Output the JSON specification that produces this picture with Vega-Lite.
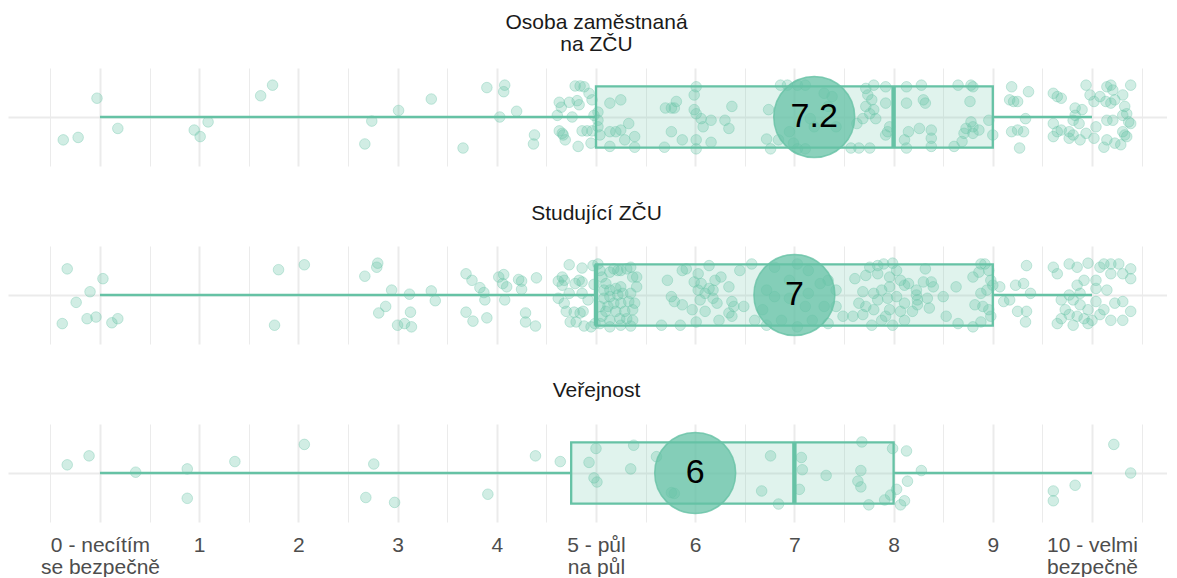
{
  "$schema": "https://vega.github.io/schema/vega-lite/v6.json",
  "background": "white",
  "padding": {"left": 8, "top": 12, "right": 0, "bottom": 0},
  "spacing": 80,
  "bounds": "flush",
  "config": {"view": {"stroke": null}, "font": "Liberation Sans"},
  "datasets": {
    "stats": [
      {"group": "zamestnanci", "lo": 0, "q1": 5, "median": 8, "q3": 9, "hi": 10, "mean": 7.2},
      {"group": "studenti", "lo": 0, "q1": 5, "median": 5, "q3": 9, "hi": 10, "mean": 7.0},
      {"group": "verejnost", "lo": 0, "q1": 4.75, "median": 7, "q3": 8, "hi": 10, "mean": 6.0}
    ],
    "zamestnanci": [
      {"score": -0.03, "jitter": 0.23}, {"score": -0.37, "jitter": -0.28}, {"score": -0.22, "jitter": -0.25}, {"score": 0.18, "jitter": -0.14},
      {"score": 0.95, "jitter": -0.16}, {"score": 1.01, "jitter": -0.24}, {"score": 1.09, "jitter": -0.06}, {"score": 1.62, "jitter": 0.26},
      {"score": 1.74, "jitter": 0.39}, {"score": 2.74, "jitter": -0.05}, {"score": 2.67, "jitter": -0.33}, {"score": 3.01, "jitter": 0.08},
      {"score": 3.34, "jitter": 0.22}, {"score": 3.66, "jitter": -0.38}, {"score": 3.90, "jitter": 0.36}, {"score": 4.08, "jitter": 0.39},
      {"score": 4.07, "jitter": 0.31}, {"score": 4.03, "jitter": 0.0}, {"score": 4.20, "jitter": 0.07}, {"score": 4.38, "jitter": -0.22},
      {"score": 4.37, "jitter": -0.33},
      {"score": 4.63, "jitter": 0.18}, {"score": 4.65, "jitter": 0.12}, {"score": 4.73, "jitter": 0.18}, {"score": 4.81, "jitter": 0.20},
      {"score": 4.83, "jitter": 0.15}, {"score": 4.61, "jitter": 0.02}, {"score": 4.76, "jitter": 0.0}, {"score": 4.79, "jitter": 0.38},
      {"score": 4.84, "jitter": 0.38}, {"score": 4.88, "jitter": 0.37}, {"score": 4.93, "jitter": 0.29}, {"score": 4.96, "jitter": 0.21},
      {"score": 4.98, "jitter": 0.02}, {"score": 4.63, "jitter": -0.17}, {"score": 4.66, "jitter": -0.20}, {"score": 4.67, "jitter": -0.22},
      {"score": 4.69, "jitter": -0.28}, {"score": 4.86, "jitter": -0.17}, {"score": 4.91, "jitter": -0.17}, {"score": 4.96, "jitter": -0.17},
      {"score": 4.82, "jitter": -0.36}, {"score": 4.95, "jitter": -0.32},
      {"score": 5.02, "jitter": 0.06}, {"score": 5.02, "jitter": -0.04}, {"score": 5.02, "jitter": -0.12}, {"score": 5.04, "jitter": -0.22},
      {"score": 5.14, "jitter": 0.17}, {"score": 5.25, "jitter": 0.21}, {"score": 5.14, "jitter": -0.18}, {"score": 5.20, "jitter": -0.18},
      {"score": 5.25, "jitter": -0.16}, {"score": 5.29, "jitter": -0.28}, {"score": 5.33, "jitter": -0.08}, {"score": 5.39, "jitter": -0.24},
      {"score": 5.14, "jitter": -0.36}, {"score": 5.39, "jitter": -0.37}, {"score": 5.70, "jitter": 0.11}, {"score": 5.76, "jitter": 0.11},
      {"score": 5.79, "jitter": 0.11}, {"score": 5.81, "jitter": 0.19}, {"score": 5.76, "jitter": -0.18}, {"score": 5.69, "jitter": -0.37},
      {"score": 5.87, "jitter": -0.28}, {"score": 6.01, "jitter": 0.37}, {"score": 5.99, "jitter": 0.27}, {"score": 5.99, "jitter": 0.09},
      {"score": 6.01, "jitter": 0.04}, {"score": 6.06, "jitter": -0.02}, {"score": 6.08, "jitter": -0.12}, {"score": 6.16, "jitter": -0.04},
      {"score": 6.01, "jitter": -0.28}, {"score": 6.01, "jitter": -0.39}, {"score": 6.16, "jitter": -0.31}, {"score": 6.30, "jitter": -0.04},
      {"score": 6.34, "jitter": -0.14}, {"score": 6.37, "jitter": 0.13}, {"score": 6.74, "jitter": 0.09}, {"score": 6.72, "jitter": -0.27},
      {"score": 6.76, "jitter": -0.39}, {"score": 6.86, "jitter": 0.39}, {"score": 6.93, "jitter": 0.39}, {"score": 7.03, "jitter": 0.39},
      {"score": 7.11, "jitter": 0.39}, {"score": 6.84, "jitter": -0.28}, {"score": 6.99, "jitter": -0.32}, {"score": 7.03, "jitter": -0.39},
      {"score": 7.11, "jitter": -0.39}, {"score": 7.30, "jitter": 0.29}, {"score": 7.38, "jitter": 0.25}, {"score": 7.34, "jitter": 0.13},
      {"score": 7.16, "jitter": -0.02}, {"score": 7.20, "jitter": -0.12}, {"score": 6.95, "jitter": -0.18}, {"score": 7.42, "jitter": -0.12},
      {"score": 7.57, "jitter": -0.38}, {"score": 7.63, "jitter": -0.08}, {"score": 7.65, "jitter": -0.38}, {"score": 7.72, "jitter": 0.35},
      {"score": 7.74, "jitter": 0.27}, {"score": 7.78, "jitter": 0.21}, {"score": 7.80, "jitter": 0.39}, {"score": 7.92, "jitter": 0.37},
      {"score": 7.72, "jitter": 0.13}, {"score": 7.76, "jitter": 0.04}, {"score": 7.80, "jitter": 0.09}, {"score": 7.82, "jitter": -0.02},
      {"score": 7.69, "jitter": -0.02}, {"score": 7.92, "jitter": 0.17}, {"score": 7.94, "jitter": -0.18}, {"score": 7.92, "jitter": -0.22},
      {"score": 7.76, "jitter": -0.38}, {"score": 7.96, "jitter": -0.12}, {"score": 8.13, "jitter": 0.37}, {"score": 8.13, "jitter": 0.17},
      {"score": 8.15, "jitter": -0.18}, {"score": 8.11, "jitter": -0.28}, {"score": 8.13, "jitter": -0.38}, {"score": 8.28, "jitter": 0.39},
      {"score": 8.30, "jitter": 0.21}, {"score": 8.32, "jitter": 0.17}, {"score": 8.26, "jitter": -0.14}, {"score": 8.38, "jitter": -0.16},
      {"score": 8.38, "jitter": -0.26}, {"score": 8.38, "jitter": -0.36}, {"score": 8.65, "jitter": 0.39}, {"score": 8.78, "jitter": 0.39},
      {"score": 8.80, "jitter": 0.37}, {"score": 8.77, "jitter": 0.19}, {"score": 8.78, "jitter": -0.06}, {"score": 8.80, "jitter": -0.12},
      {"score": 8.73, "jitter": -0.14}, {"score": 8.71, "jitter": -0.20}, {"score": 8.80, "jitter": -0.20}, {"score": 8.86, "jitter": -0.16},
      {"score": 8.96, "jitter": -0.04}, {"score": 8.69, "jitter": -0.30}, {"score": 8.61, "jitter": -0.36}, {"score": 9.00, "jitter": -0.22},
      {"score": 9.19, "jitter": 0.37}, {"score": 9.36, "jitter": 0.31}, {"score": 9.17, "jitter": 0.21}, {"score": 9.21, "jitter": 0.19},
      {"score": 9.25, "jitter": 0.19}, {"score": 9.33, "jitter": -0.02}, {"score": 9.19, "jitter": -0.18}, {"score": 9.25, "jitter": -0.16},
      {"score": 9.31, "jitter": -0.18}, {"score": 9.27, "jitter": -0.38}, {"score": 9.61, "jitter": 0.29}, {"score": 9.65, "jitter": 0.25},
      {"score": 9.69, "jitter": 0.23}, {"score": 9.61, "jitter": -0.08}, {"score": 9.65, "jitter": -0.18}, {"score": 9.61, "jitter": -0.24},
      {"score": 9.69, "jitter": -0.16}, {"score": 9.77, "jitter": -0.18}, {"score": 9.83, "jitter": 0.11}, {"score": 9.83, "jitter": 0.02},
      {"score": 9.81, "jitter": -0.04}, {"score": 9.87, "jitter": -0.08}, {"score": 9.90, "jitter": 0.09}, {"score": 9.94, "jitter": 0.39},
      {"score": 9.98, "jitter": 0.27}, {"score": 10.02, "jitter": 0.19}, {"score": 10.08, "jitter": 0.25}, {"score": 10.15, "jitter": 0.37},
      {"score": 10.19, "jitter": 0.39}, {"score": 10.21, "jitter": 0.33}, {"score": 10.23, "jitter": 0.21}, {"score": 10.31, "jitter": 0.27},
      {"score": 10.39, "jitter": 0.39}, {"score": 10.14, "jitter": 0.19}, {"score": 10.19, "jitter": 0.17}, {"score": 10.33, "jitter": 0.13},
      {"score": 10.35, "jitter": 0.04}, {"score": 10.31, "jitter": 0.02}, {"score": 10.15, "jitter": -0.04}, {"score": 10.21, "jitter": -0.04},
      {"score": 10.37, "jitter": -0.06}, {"score": 10.39, "jitter": -0.08}, {"score": 10.04, "jitter": -0.12}, {"score": 9.94, "jitter": -0.20},
      {"score": 9.88, "jitter": -0.28}, {"score": 10.02, "jitter": -0.26}, {"score": 10.15, "jitter": -0.28}, {"score": 10.23, "jitter": -0.32},
      {"score": 10.29, "jitter": -0.34}, {"score": 10.12, "jitter": -0.37}, {"score": 10.31, "jitter": -0.18}, {"score": 10.33, "jitter": -0.22},
      {"score": 10.35, "jitter": -0.24}, {"score": 9.81, "jitter": -0.22}, {"score": 9.77, "jitter": -0.26}
    ],
    "studenti": [
      {"score": -0.33, "jitter": 0.32}, {"score": 0.03, "jitter": 0.20}, {"score": -0.10, "jitter": 0.04}, {"score": -0.24, "jitter": -0.09},
      {"score": -0.38, "jitter": -0.35}, {"score": -0.13, "jitter": -0.29}, {"score": -0.04, "jitter": -0.27}, {"score": 0.12, "jitter": -0.34},
      {"score": 0.18, "jitter": -0.29}, {"score": 1.80, "jitter": 0.31}, {"score": 2.06, "jitter": 0.37}, {"score": 1.76, "jitter": -0.37},
      {"score": 2.67, "jitter": 0.23}, {"score": 2.79, "jitter": 0.34}, {"score": 2.80, "jitter": 0.39}, {"score": 2.94, "jitter": 0.06},
      {"score": 3.12, "jitter": 0.01}, {"score": 3.34, "jitter": 0.05}, {"score": 3.38, "jitter": -0.07}, {"score": 2.88, "jitter": -0.14},
      {"score": 2.81, "jitter": -0.22}, {"score": 3.13, "jitter": -0.21}, {"score": 3.00, "jitter": -0.37}, {"score": 3.07, "jitter": -0.35},
      {"score": 3.14, "jitter": -0.39}, {"score": 3.69, "jitter": 0.26}, {"score": 3.75, "jitter": 0.18}, {"score": 3.83, "jitter": 0.09},
      {"score": 3.87, "jitter": 0.03}, {"score": 3.88, "jitter": -0.06}, {"score": 3.69, "jitter": -0.21}, {"score": 3.76, "jitter": -0.32},
      {"score": 3.90, "jitter": -0.28}, {"score": 4.02, "jitter": 0.22}, {"score": 4.07, "jitter": 0.25}, {"score": 4.06, "jitter": 0.14},
      {"score": 4.10, "jitter": 0.10}, {"score": 4.22, "jitter": 0.19}, {"score": 4.25, "jitter": 0.17}, {"score": 4.25, "jitter": 0.07},
      {"score": 4.40, "jitter": 0.21}, {"score": 4.08, "jitter": -0.06}, {"score": 4.29, "jitter": -0.22}, {"score": 4.29, "jitter": -0.33},
      {"score": 4.39, "jitter": -0.38},
      {"score": 4.73, "jitter": 0.37}, {"score": 4.86, "jitter": 0.33}, {"score": 4.97, "jitter": 0.36}, {"score": 4.66, "jitter": 0.22},
      {"score": 4.68, "jitter": 0.18}, {"score": 4.62, "jitter": 0.17}, {"score": 4.79, "jitter": 0.14}, {"score": 4.86, "jitter": 0.16},
      {"score": 4.83, "jitter": 0.18}, {"score": 4.66, "jitter": 0.12}, {"score": 4.98, "jitter": 0.13}, {"score": 4.73, "jitter": 0.02},
      {"score": 4.86, "jitter": 0.02}, {"score": 4.62, "jitter": -0.04}, {"score": 4.68, "jitter": -0.10}, {"score": 4.92, "jitter": -0.06},
      {"score": 4.70, "jitter": -0.20}, {"score": 4.78, "jitter": -0.21}, {"score": 4.84, "jitter": -0.22}, {"score": 4.87, "jitter": -0.20},
      {"score": 4.74, "jitter": -0.33}, {"score": 4.80, "jitter": -0.33}, {"score": 4.88, "jitter": -0.38}, {"score": 4.95, "jitter": -0.39},
      {"score": 4.99, "jitter": -0.35},
      {"score": 5.02, "jitter": 0.38}, {"score": 5.04, "jitter": 0.30}, {"score": 5.06, "jitter": 0.22}, {"score": 5.10, "jitter": 0.14},
      {"score": 5.14, "jitter": 0.28}, {"score": 5.18, "jitter": 0.32}, {"score": 5.22, "jitter": 0.30}, {"score": 5.25, "jitter": 0.30},
      {"score": 5.31, "jitter": 0.32}, {"score": 5.35, "jitter": 0.34}, {"score": 5.37, "jitter": 0.22}, {"score": 5.41, "jitter": 0.22},
      {"score": 5.08, "jitter": 0.06}, {"score": 5.14, "jitter": 0.06}, {"score": 5.20, "jitter": 0.08}, {"score": 5.25, "jitter": 0.10},
      {"score": 5.08, "jitter": -0.04}, {"score": 5.14, "jitter": -0.02}, {"score": 5.22, "jitter": 0.0}, {"score": 5.27, "jitter": 0.02},
      {"score": 5.35, "jitter": 0.02}, {"score": 5.41, "jitter": 0.10}, {"score": 5.04, "jitter": -0.14}, {"score": 5.12, "jitter": -0.14},
      {"score": 5.18, "jitter": -0.10}, {"score": 5.25, "jitter": -0.10}, {"score": 5.33, "jitter": -0.08}, {"score": 5.39, "jitter": -0.10},
      {"score": 5.06, "jitter": -0.26}, {"score": 5.14, "jitter": -0.31}, {"score": 5.24, "jitter": -0.29}, {"score": 5.31, "jitter": -0.29},
      {"score": 5.37, "jitter": -0.31}, {"score": 5.04, "jitter": -0.35}, {"score": 5.14, "jitter": -0.39}, {"score": 5.25, "jitter": -0.37},
      {"score": 5.35, "jitter": -0.38}, {"score": 5.10, "jitter": -0.20}, {"score": 5.20, "jitter": -0.20}, {"score": 5.29, "jitter": -0.20},
      {"score": 5.37, "jitter": -0.18},
      {"score": 5.72, "jitter": 0.18}, {"score": 5.87, "jitter": 0.30}, {"score": 5.91, "jitter": 0.32}, {"score": 6.03, "jitter": 0.26},
      {"score": 6.14, "jitter": 0.36}, {"score": 5.99, "jitter": 0.16}, {"score": 6.06, "jitter": 0.14}, {"score": 6.20, "jitter": 0.18},
      {"score": 6.26, "jitter": 0.22}, {"score": 6.34, "jitter": 0.10}, {"score": 5.76, "jitter": -0.02}, {"score": 5.79, "jitter": -0.08},
      {"score": 5.87, "jitter": -0.12}, {"score": 5.97, "jitter": -0.18}, {"score": 6.03, "jitter": 0.06}, {"score": 6.10, "jitter": 0.02},
      {"score": 6.18, "jitter": -0.04}, {"score": 6.22, "jitter": -0.10}, {"score": 6.37, "jitter": -0.08}, {"score": 6.39, "jitter": -0.14},
      {"score": 5.66, "jitter": -0.37}, {"score": 5.85, "jitter": -0.37}, {"score": 6.10, "jitter": -0.20}, {"score": 6.24, "jitter": -0.31},
      {"score": 6.34, "jitter": -0.22}, {"score": 6.37, "jitter": -0.26}, {"score": 6.05, "jitter": -0.06}, {"score": 6.14, "jitter": 0.08},
      {"score": 6.18, "jitter": 0.06}, {"score": 6.01, "jitter": -0.33},
      {"score": 6.45, "jitter": 0.30}, {"score": 6.57, "jitter": 0.38}, {"score": 6.80, "jitter": 0.34}, {"score": 7.03, "jitter": 0.38},
      {"score": 7.14, "jitter": 0.30}, {"score": 7.26, "jitter": 0.14}, {"score": 7.34, "jitter": 0.18}, {"score": 7.42, "jitter": 0.06},
      {"score": 6.72, "jitter": 0.06}, {"score": 6.80, "jitter": -0.02}, {"score": 6.95, "jitter": -0.04}, {"score": 7.11, "jitter": -0.14},
      {"score": 7.30, "jitter": -0.14}, {"score": 7.42, "jitter": -0.14}, {"score": 6.60, "jitter": -0.31}, {"score": 6.72, "jitter": -0.37},
      {"score": 6.87, "jitter": -0.31}, {"score": 7.03, "jitter": -0.39}, {"score": 7.18, "jitter": -0.31}, {"score": 7.34, "jitter": -0.35},
      {"score": 7.49, "jitter": -0.26}, {"score": 6.49, "jitter": -0.14}, {"score": 6.68, "jitter": -0.18}, {"score": 7.14, "jitter": 0.02},
      {"score": 6.95, "jitter": 0.18},
      {"score": 7.61, "jitter": 0.20}, {"score": 7.72, "jitter": 0.24}, {"score": 7.76, "jitter": 0.34}, {"score": 7.84, "jitter": 0.36},
      {"score": 7.90, "jitter": 0.38}, {"score": 7.99, "jitter": 0.39}, {"score": 8.03, "jitter": 0.30}, {"score": 7.84, "jitter": 0.26},
      {"score": 7.96, "jitter": 0.22}, {"score": 8.07, "jitter": 0.18}, {"score": 8.11, "jitter": 0.12}, {"score": 8.15, "jitter": 0.14},
      {"score": 8.23, "jitter": 0.06}, {"score": 8.30, "jitter": 0.16}, {"score": 8.32, "jitter": 0.32}, {"score": 8.38, "jitter": 0.16},
      {"score": 8.40, "jitter": 0.10}, {"score": 7.96, "jitter": 0.10}, {"score": 7.88, "jitter": 0.06}, {"score": 7.80, "jitter": 0.02},
      {"score": 7.69, "jitter": 0.04}, {"score": 7.65, "jitter": -0.10}, {"score": 7.72, "jitter": -0.14}, {"score": 7.84, "jitter": -0.06},
      {"score": 7.94, "jitter": -0.04}, {"score": 8.03, "jitter": -0.02}, {"score": 8.11, "jitter": -0.10}, {"score": 8.23, "jitter": 0.0},
      {"score": 8.24, "jitter": -0.06}, {"score": 8.34, "jitter": -0.04}, {"score": 7.59, "jitter": -0.26}, {"score": 7.69, "jitter": -0.24},
      {"score": 7.78, "jitter": -0.37}, {"score": 7.88, "jitter": -0.31}, {"score": 7.96, "jitter": -0.18}, {"score": 8.07, "jitter": -0.20},
      {"score": 8.11, "jitter": -0.31}, {"score": 8.19, "jitter": -0.20}, {"score": 8.24, "jitter": -0.12}, {"score": 8.36, "jitter": -0.16},
      {"score": 7.99, "jitter": -0.37}, {"score": 7.92, "jitter": -0.26}, {"score": 7.80, "jitter": -0.18},
      {"score": 8.63, "jitter": 0.10}, {"score": 8.80, "jitter": 0.22}, {"score": 8.86, "jitter": 0.28}, {"score": 8.88, "jitter": 0.38},
      {"score": 8.92, "jitter": 0.38}, {"score": 8.96, "jitter": 0.30}, {"score": 8.98, "jitter": 0.18}, {"score": 9.00, "jitter": 0.12},
      {"score": 8.94, "jitter": 0.06}, {"score": 8.88, "jitter": 0.02}, {"score": 8.82, "jitter": -0.12}, {"score": 8.90, "jitter": -0.14},
      {"score": 8.96, "jitter": -0.18}, {"score": 8.98, "jitter": -0.26}, {"score": 8.80, "jitter": -0.39}, {"score": 8.88, "jitter": -0.33},
      {"score": 8.65, "jitter": -0.35}, {"score": 8.50, "jitter": -0.02}, {"score": 8.53, "jitter": -0.26},
      {"score": 9.07, "jitter": 0.10}, {"score": 9.11, "jitter": -0.08}, {"score": 9.17, "jitter": -0.06}, {"score": 9.23, "jitter": 0.12},
      {"score": 9.31, "jitter": 0.14}, {"score": 9.34, "jitter": 0.36}, {"score": 9.25, "jitter": -0.20}, {"score": 9.34, "jitter": -0.20},
      {"score": 9.33, "jitter": -0.33}, {"score": 9.38, "jitter": 0.02}, {"score": 9.61, "jitter": 0.34}, {"score": 9.65, "jitter": 0.26},
      {"score": 9.77, "jitter": 0.38}, {"score": 9.85, "jitter": 0.34}, {"score": 9.96, "jitter": 0.39}, {"score": 10.08, "jitter": 0.34},
      {"score": 10.12, "jitter": 0.38}, {"score": 10.19, "jitter": 0.38}, {"score": 10.27, "jitter": 0.38}, {"score": 10.39, "jitter": 0.32},
      {"score": 10.39, "jitter": 0.20}, {"score": 10.31, "jitter": 0.26}, {"score": 10.19, "jitter": 0.26}, {"score": 10.04, "jitter": 0.18},
      {"score": 9.92, "jitter": 0.18}, {"score": 9.85, "jitter": 0.12}, {"score": 9.77, "jitter": 0.0}, {"score": 9.69, "jitter": -0.06},
      {"score": 9.81, "jitter": -0.06}, {"score": 9.88, "jitter": -0.12}, {"score": 9.96, "jitter": -0.18}, {"score": 10.04, "jitter": -0.08},
      {"score": 10.15, "jitter": 0.06}, {"score": 10.23, "jitter": -0.10}, {"score": 10.31, "jitter": -0.08}, {"score": 10.39, "jitter": -0.20},
      {"score": 10.31, "jitter": -0.31}, {"score": 10.19, "jitter": -0.31}, {"score": 10.08, "jitter": -0.24}, {"score": 10.00, "jitter": -0.31},
      {"score": 9.92, "jitter": -0.29}, {"score": 9.85, "jitter": -0.26}, {"score": 9.77, "jitter": -0.24}, {"score": 9.69, "jitter": -0.29},
      {"score": 9.65, "jitter": -0.35}, {"score": 9.81, "jitter": -0.37}, {"score": 9.96, "jitter": -0.35}, {"score": 10.12, "jitter": -0.18},
      {"score": 10.04, "jitter": 0.08}, {"score": 9.88, "jitter": 0.02}, {"score": 9.73, "jitter": -0.18}
    ],
    "verejnost": [
      {"score": -0.33, "jitter": 0.10}, {"score": -0.11, "jitter": 0.21}, {"score": 0.36, "jitter": 0.01}, {"score": 0.88, "jitter": 0.05},
      {"score": 0.88, "jitter": -0.31}, {"score": 1.36, "jitter": 0.14}, {"score": 2.06, "jitter": 0.35}, {"score": 2.76, "jitter": 0.11},
      {"score": 2.68, "jitter": -0.30}, {"score": 2.97, "jitter": -0.36}, {"score": 3.91, "jitter": -0.26}, {"score": 4.39, "jitter": 0.21},
      {"score": 4.64, "jitter": 0.14}, {"score": 4.93, "jitter": 0.13}, {"score": 5.00, "jitter": 0.30}, {"score": 4.98, "jitter": -0.06},
      {"score": 5.01, "jitter": -0.11}, {"score": 5.38, "jitter": 0.34}, {"score": 5.61, "jitter": 0.20}, {"score": 5.35, "jitter": 0.05},
      {"score": 5.76, "jitter": -0.24}, {"score": 5.79, "jitter": -0.25}, {"score": 6.76, "jitter": 0.21}, {"score": 6.67, "jitter": -0.22},
      {"score": 6.84, "jitter": -0.38}, {"score": 7.07, "jitter": 0.19}, {"score": 7.08, "jitter": 0.04}, {"score": 7.05, "jitter": -0.20},
      {"score": 7.32, "jitter": -0.03}, {"score": 7.68, "jitter": 0.38}, {"score": 7.67, "jitter": 0.03}, {"score": 7.64, "jitter": -0.10},
      {"score": 7.67, "jitter": -0.17}, {"score": 7.75, "jitter": -0.39}, {"score": 7.99, "jitter": 0.30}, {"score": 8.13, "jitter": 0.27},
      {"score": 8.03, "jitter": -0.20}, {"score": 7.97, "jitter": -0.27}, {"score": 7.91, "jitter": -0.33}, {"score": 8.11, "jitter": -0.34},
      {"score": 8.07, "jitter": -0.39}, {"score": 8.14, "jitter": -0.10}, {"score": 8.28, "jitter": 0.03}, {"score": 9.61, "jitter": -0.22},
      {"score": 9.61, "jitter": -0.34}, {"score": 9.83, "jitter": -0.15}, {"score": 10.22, "jitter": 0.35}, {"score": 10.39, "jitter": 0.0}
    ]
  },
  "vconcat": [
    {
      "title": {"text": ["Osoba zaměstnaná", "na ZČU"], "offset": -4, "baseline": "alphabetic", "lineHeight": 22, "fontSize": 21, "font": "Liberation Sans", "fontWeight": "normal", "color": "#1a1a1a", "anchor": "middle", "dx": 9},
      "width": 1159, "height": 98,
      "layer": [
        {"data": {"name": "zamestnanci"},
         "mark": {"type": "point", "shape": "circle", "filled": true, "size": 112, "fill": "#66c2a5", "fillOpacity": 0.3, "stroke": "#66c2a5", "strokeOpacity": 0.35, "strokeWidth": 1},
         "encoding": {
           "x": {"field": "score", "type": "quantitative", "scale": {"domain": [-0.927, 10.756], "nice": false, "zero": false},
                 "axis": {"values": [-0.5,0,0.5,1,1.5,2,2.5,3,3.5,4,4.5,5,5.5,6,6.5,7,7.5,8,8.5,9,9.5,10,10.5], "grid": true, "gridColor": "#ebebeb", "gridWidth": {"condition": {"test": "datum.value % 1 === 0", "value": 2}, "value": 1}, "labels": false, "ticks": false, "domain": false, "title": null}},
           "y": {"field": "jitter", "type": "quantitative", "scale": {"domain": [-0.6, 0.6], "nice": false, "zero": false},
                 "axis": {"values": [0], "grid": true, "gridColor": "#ebebeb", "gridWidth": 2, "labels": false, "ticks": false, "domain": false, "title": null}}
         }},
        {"data": {"name": "stats"}, "transform": [{"filter": "datum.group == 'zamestnanci'"}],
         "mark": {"type": "rule", "color": "#66c2a5", "strokeWidth": 2.3},
         "encoding": {"x": {"field": "lo", "type": "quantitative", "scale": {"domain": [-0.927, 10.756], "nice": false, "zero": false}}, "x2": {"field": "q1"},
                      "y": {"datum": 0, "type": "quantitative", "scale": {"domain": [-0.6, 0.6], "nice": false, "zero": false}}}},
        {"data": {"name": "stats"}, "transform": [{"filter": "datum.group == 'zamestnanci'"}],
         "mark": {"type": "rule", "color": "#66c2a5", "strokeWidth": 2.3},
         "encoding": {"x": {"field": "q3", "type": "quantitative", "scale": {"domain": [-0.927, 10.756], "nice": false, "zero": false}}, "x2": {"field": "hi"},
                      "y": {"datum": 0, "type": "quantitative", "scale": {"domain": [-0.6, 0.6], "nice": false, "zero": false}}}},
        {"data": {"name": "stats"}, "transform": [{"filter": "datum.group == 'zamestnanci'"}],
         "mark": {"type": "rect", "fill": "#66c2a5", "fillOpacity": 0.2, "stroke": "#66c2a5", "strokeWidth": 2.3},
         "encoding": {"x": {"field": "q1", "type": "quantitative", "scale": {"domain": [-0.927, 10.756], "nice": false, "zero": false}}, "x2": {"field": "q3"},
                      "y": {"datum": -0.375, "type": "quantitative", "scale": {"domain": [-0.6, 0.6], "nice": false, "zero": false}}, "y2": {"datum": 0.375}}},
        {"data": {"name": "stats"}, "transform": [{"filter": "datum.group == 'zamestnanci'"}],
         "mark": {"type": "rule", "color": "#66c2a5", "strokeWidth": 4.4},
         "encoding": {"x": {"field": "median", "type": "quantitative", "scale": {"domain": [-0.927, 10.756], "nice": false, "zero": false}},
                      "y": {"datum": -0.375, "type": "quantitative", "scale": {"domain": [-0.6, 0.6], "nice": false, "zero": false}}, "y2": {"datum": 0.375}}},
        {"data": {"name": "stats"}, "transform": [{"filter": "datum.group == 'zamestnanci'"}],
         "mark": {"type": "point", "shape": "circle", "filled": true, "size": 6561, "fill": "#66c2a5", "fillOpacity": 0.75, "stroke": "#66c2a5", "strokeOpacity": 0.8, "strokeWidth": 1.5},
         "encoding": {"x": {"field": "mean", "type": "quantitative", "scale": {"domain": [-0.927, 10.756], "nice": false, "zero": false}},
                      "y": {"datum": 0, "type": "quantitative", "scale": {"domain": [-0.6, 0.6], "nice": false, "zero": false}}}},
        {"data": {"name": "stats"}, "transform": [{"filter": "datum.group == 'zamestnanci'"}],
         "mark": {"type": "text", "font": "Liberation Sans", "fontSize": 34, "color": "#000000", "align": "center", "baseline": "middle"},
         "encoding": {"x": {"field": "mean", "type": "quantitative", "scale": {"domain": [-0.927, 10.756], "nice": false, "zero": false}},
                      "y": {"datum": 0, "type": "quantitative", "scale": {"domain": [-0.6, 0.6], "nice": false, "zero": false}},
                      "text": {"field": "mean", "type": "quantitative", "format": ".2~f"}}}
      ]
    },
    {
      "title": {"text": "Studující ZČU", "offset": 5, "baseline": "alphabetic", "lineHeight": 22, "fontSize": 21, "font": "Liberation Sans", "fontWeight": "normal", "color": "#1a1a1a", "anchor": "middle", "dx": 9},
      "width": 1159, "height": 98,
      "layer": [
        {"data": {"name": "studenti"},
         "mark": {"type": "point", "shape": "circle", "filled": true, "size": 112, "fill": "#66c2a5", "fillOpacity": 0.3, "stroke": "#66c2a5", "strokeOpacity": 0.35, "strokeWidth": 1},
         "encoding": {
           "x": {"field": "score", "type": "quantitative", "scale": {"domain": [-0.927, 10.756], "nice": false, "zero": false},
                 "axis": {"values": [-0.5,0,0.5,1,1.5,2,2.5,3,3.5,4,4.5,5,5.5,6,6.5,7,7.5,8,8.5,9,9.5,10,10.5], "grid": true, "gridColor": "#ebebeb", "gridWidth": {"condition": {"test": "datum.value % 1 === 0", "value": 2}, "value": 1}, "labels": false, "ticks": false, "domain": false, "title": null}},
           "y": {"field": "jitter", "type": "quantitative", "scale": {"domain": [-0.6, 0.6], "nice": false, "zero": false},
                 "axis": {"values": [0], "grid": true, "gridColor": "#ebebeb", "gridWidth": 2, "labels": false, "ticks": false, "domain": false, "title": null}}
         }},
        {"data": {"name": "stats"}, "transform": [{"filter": "datum.group == 'studenti'"}],
         "mark": {"type": "rule", "color": "#66c2a5", "strokeWidth": 2.3},
         "encoding": {"x": {"field": "lo", "type": "quantitative", "scale": {"domain": [-0.927, 10.756], "nice": false, "zero": false}}, "x2": {"field": "q1"},
                      "y": {"datum": 0, "type": "quantitative", "scale": {"domain": [-0.6, 0.6], "nice": false, "zero": false}}}},
        {"data": {"name": "stats"}, "transform": [{"filter": "datum.group == 'studenti'"}],
         "mark": {"type": "rule", "color": "#66c2a5", "strokeWidth": 2.3},
         "encoding": {"x": {"field": "q3", "type": "quantitative", "scale": {"domain": [-0.927, 10.756], "nice": false, "zero": false}}, "x2": {"field": "hi"},
                      "y": {"datum": 0, "type": "quantitative", "scale": {"domain": [-0.6, 0.6], "nice": false, "zero": false}}}},
        {"data": {"name": "stats"}, "transform": [{"filter": "datum.group == 'studenti'"}],
         "mark": {"type": "rect", "fill": "#66c2a5", "fillOpacity": 0.2, "stroke": "#66c2a5", "strokeWidth": 2.3},
         "encoding": {"x": {"field": "q1", "type": "quantitative", "scale": {"domain": [-0.927, 10.756], "nice": false, "zero": false}}, "x2": {"field": "q3"},
                      "y": {"datum": -0.375, "type": "quantitative", "scale": {"domain": [-0.6, 0.6], "nice": false, "zero": false}}, "y2": {"datum": 0.375}}},
        {"data": {"name": "stats"}, "transform": [{"filter": "datum.group == 'studenti'"}],
         "mark": {"type": "rule", "color": "#66c2a5", "strokeWidth": 4.4},
         "encoding": {"x": {"field": "median", "type": "quantitative", "scale": {"domain": [-0.927, 10.756], "nice": false, "zero": false}},
                      "y": {"datum": -0.375, "type": "quantitative", "scale": {"domain": [-0.6, 0.6], "nice": false, "zero": false}}, "y2": {"datum": 0.375}}},
        {"data": {"name": "stats"}, "transform": [{"filter": "datum.group == 'studenti'"}],
         "mark": {"type": "point", "shape": "circle", "filled": true, "size": 6561, "fill": "#66c2a5", "fillOpacity": 0.75, "stroke": "#66c2a5", "strokeOpacity": 0.8, "strokeWidth": 1.5},
         "encoding": {"x": {"field": "mean", "type": "quantitative", "scale": {"domain": [-0.927, 10.756], "nice": false, "zero": false}},
                      "y": {"datum": 0, "type": "quantitative", "scale": {"domain": [-0.6, 0.6], "nice": false, "zero": false}}}},
        {"data": {"name": "stats"}, "transform": [{"filter": "datum.group == 'studenti'"}],
         "mark": {"type": "text", "font": "Liberation Sans", "fontSize": 34, "color": "#000000", "align": "center", "baseline": "middle"},
         "encoding": {"x": {"field": "mean", "type": "quantitative", "scale": {"domain": [-0.927, 10.756], "nice": false, "zero": false}},
                      "y": {"datum": 0, "type": "quantitative", "scale": {"domain": [-0.6, 0.6], "nice": false, "zero": false}},
                      "text": {"field": "mean", "type": "quantitative", "format": ".2~f"}}}
      ]
    },
    {
      "title": {"text": "Veřejnost", "offset": 6, "baseline": "alphabetic", "lineHeight": 22, "fontSize": 21, "font": "Liberation Sans", "fontWeight": "normal", "color": "#1a1a1a", "anchor": "middle", "dx": 9},
      "width": 1159, "height": 98,
      "layer": [
        {"data": {"name": "verejnost"},
         "mark": {"type": "point", "shape": "circle", "filled": true, "size": 112, "fill": "#66c2a5", "fillOpacity": 0.3, "stroke": "#66c2a5", "strokeOpacity": 0.35, "strokeWidth": 1},
         "encoding": {
           "x": {"field": "score", "type": "quantitative", "scale": {"domain": [-0.927, 10.756], "nice": false, "zero": false},
                 "axis": {"values": [-0.5,0,0.5,1,1.5,2,2.5,3,3.5,4,4.5,5,5.5,6,6.5,7,7.5,8,8.5,9,9.5,10,10.5], "grid": true, "gridColor": "#ebebeb", "gridWidth": {"condition": {"test": "datum.value % 1 === 0", "value": 2}, "value": 1},
                          "labels": true, "ticks": false, "tickSize": 0, "domain": false, "title": null, "format": "~g",
                          "labelExpr": "datum.value == 0 ? ['0 - necítím', 'se bezpečně'] : datum.value == 5 ? ['5 - půl', 'na půl'] : datum.value == 10 ? ['10 - velmi', 'bezpečně'] : (datum.value % 1 === 0 ? datum.label : '')",
                          "labelFont": "Liberation Sans", "labelFontSize": 21, "labelColor": "#4d4d4d", "labelPadding": 29, "labelBaseline": "alphabetic", "labelLineHeight": 22,
                          "labelOverlap": false, "labelFlush": false, "labelBound": false, "labelAlign": "center"}},
           "y": {"field": "jitter", "type": "quantitative", "scale": {"domain": [-0.6, 0.6], "nice": false, "zero": false},
                 "axis": {"values": [0], "grid": true, "gridColor": "#ebebeb", "gridWidth": 2, "labels": false, "ticks": false, "domain": false, "title": null}}
         }},
        {"data": {"name": "stats"}, "transform": [{"filter": "datum.group == 'verejnost'"}],
         "mark": {"type": "rule", "color": "#66c2a5", "strokeWidth": 2.3},
         "encoding": {"x": {"field": "lo", "type": "quantitative", "scale": {"domain": [-0.927, 10.756], "nice": false, "zero": false}}, "x2": {"field": "q1"},
                      "y": {"datum": 0, "type": "quantitative", "scale": {"domain": [-0.6, 0.6], "nice": false, "zero": false}}}},
        {"data": {"name": "stats"}, "transform": [{"filter": "datum.group == 'verejnost'"}],
         "mark": {"type": "rule", "color": "#66c2a5", "strokeWidth": 2.3},
         "encoding": {"x": {"field": "q3", "type": "quantitative", "scale": {"domain": [-0.927, 10.756], "nice": false, "zero": false}}, "x2": {"field": "hi"},
                      "y": {"datum": 0, "type": "quantitative", "scale": {"domain": [-0.6, 0.6], "nice": false, "zero": false}}}},
        {"data": {"name": "stats"}, "transform": [{"filter": "datum.group == 'verejnost'"}],
         "mark": {"type": "rect", "fill": "#66c2a5", "fillOpacity": 0.2, "stroke": "#66c2a5", "strokeWidth": 2.3},
         "encoding": {"x": {"field": "q1", "type": "quantitative", "scale": {"domain": [-0.927, 10.756], "nice": false, "zero": false}}, "x2": {"field": "q3"},
                      "y": {"datum": -0.375, "type": "quantitative", "scale": {"domain": [-0.6, 0.6], "nice": false, "zero": false}}, "y2": {"datum": 0.375}}},
        {"data": {"name": "stats"}, "transform": [{"filter": "datum.group == 'verejnost'"}],
         "mark": {"type": "rule", "color": "#66c2a5", "strokeWidth": 4.4},
         "encoding": {"x": {"field": "median", "type": "quantitative", "scale": {"domain": [-0.927, 10.756], "nice": false, "zero": false}},
                      "y": {"datum": -0.375, "type": "quantitative", "scale": {"domain": [-0.6, 0.6], "nice": false, "zero": false}}, "y2": {"datum": 0.375}}},
        {"data": {"name": "stats"}, "transform": [{"filter": "datum.group == 'verejnost'"}],
         "mark": {"type": "point", "shape": "circle", "filled": true, "size": 6561, "fill": "#66c2a5", "fillOpacity": 0.75, "stroke": "#66c2a5", "strokeOpacity": 0.8, "strokeWidth": 1.5},
         "encoding": {"x": {"field": "mean", "type": "quantitative", "scale": {"domain": [-0.927, 10.756], "nice": false, "zero": false}},
                      "y": {"datum": 0, "type": "quantitative", "scale": {"domain": [-0.6, 0.6], "nice": false, "zero": false}}}},
        {"data": {"name": "stats"}, "transform": [{"filter": "datum.group == 'verejnost'"}],
         "mark": {"type": "text", "font": "Liberation Sans", "fontSize": 34, "color": "#000000", "align": "center", "baseline": "middle"},
         "encoding": {"x": {"field": "mean", "type": "quantitative", "scale": {"domain": [-0.927, 10.756], "nice": false, "zero": false}},
                      "y": {"datum": 0, "type": "quantitative", "scale": {"domain": [-0.6, 0.6], "nice": false, "zero": false}},
                      "text": {"field": "mean", "type": "quantitative", "format": ".2~f"}}}
      ]
    }
  ]
}
